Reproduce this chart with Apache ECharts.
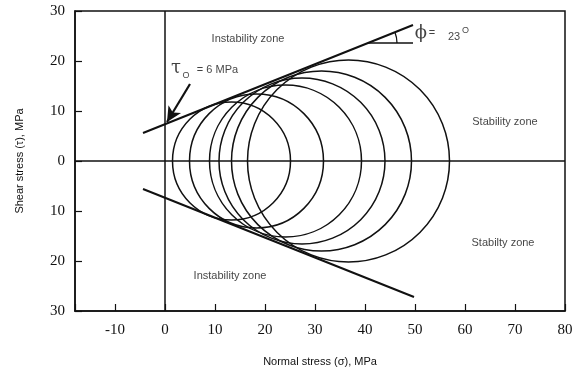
<!DOCTYPE html>
<html>
<head>
<meta charset="utf-8">
<script src="https://cdn.jsdelivr.net/npm/echarts@6/dist/echarts.min.js"></script>
<style>
html, body { margin: 0; padding: 0; background: #fff; }
#chart { width: 582px; height: 368px; }
</style>
</head>
<body>
<div id="chart"></div>
<script>
// Mohr circles (center on sigma axis, radius), MPa
var circleCenters = [13.3, 18.3, 24.1, 27.4, 31.3, 36.7];
var circleRadii = [11.8, 13.4, 15.2, 16.6, 18.0, 20.2];

// failure envelopes
var upperEnvelope = [[-4.4, 5.6], [49.6, 27.2]];
var lowerEnvelope = [[-4.4, -5.6], [49.8, -27.2]];

// arrow to tau0 and the phi angle marker
var arrowLine = [[5.0, 15.4], [0.4, 7.8]];
var angleLine = [[40.6, 23.6], [49.6, 23.6]];
var angleArc = [[40.6, 23.6, 5.8]];

// texts placed in data coordinates
var zoneLabels = [
    [16.6, 24.4, 'Instability zone'],
    [13.0, -23.0, 'Instability zone'],
    [68.0, 7.8, 'Stability zone'],
    [67.6, -16.4, 'Stabilty zone']
];
var noteLabels = [
    [2.2, 18.5, 'τ', 'greek'],
    [4.2, 17.0, 'O', 'sub'],
    [10.5, 18.2, '= 6 MPa', 'note'],
    [51.2, 25.6, 'ϕ', 'greek'],
    [53.4, 25.6, '=', 'note'],
    [57.8, 24.8, '23', 'note'],
    [60.1, 26.0, 'O', 'sub']
];

var noteStyles = {
    greek: { fontSize: 18, fontFamily: 'DejaVu Serif' },
    sub: { fontSize: 9, fontFamily: 'Liberation Sans' },
    note: { fontSize: 11, fontFamily: 'Liberation Sans' }
};

var xMin = -18, xMax = 80;
var yMin = -30, yMax = 30;

var myChart = echarts.init(document.getElementById('chart'));

var circleData = circleCenters.map(function (c, i) {
    return [c, circleRadii[i]];
});

var textData = zoneLabels.map(function (d) {
    return {
        value: [d[0], d[1]],
        label: { formatter: d[2], fontSize: 11, fontFamily: 'Liberation Sans', color: '#111' }
    };
}).concat(noteLabels.map(function (d) {
    var s = noteStyles[d[3]];
    return {
        value: [d[0], d[1]],
        label: { formatter: d[2], fontSize: s.fontSize, fontFamily: s.fontFamily, color: '#111' }
    };
}));

var option = {
    animation: false,
    grid: {
        left: 75,
        right: 17,
        top: 11,
        bottom: 57,
        outerBoundsMode: 'none',
        show: true,
        borderColor: '#111',
        borderWidth: 1.5
    },
    xAxis: {
        type: 'value',
        min: xMin,
        max: xMax,
        splitNumber: 10,
        name: 'Normal stress (σ), MPa',
        nameLocation: 'middle',
        nameGap: 45,
        nameTextStyle: { fontSize: 11, fontFamily: 'Liberation Sans', color: '#111' },
        axisLine: { show: true, onZero: false, lineStyle: { color: '#111', width: 1.5 } },
        axisTick: { show: true, inside: true, length: 7, lineStyle: { color: '#111', width: 1.2 } },
        axisLabel: {
            margin: 12,
            fontSize: 15,
            fontFamily: 'Liberation Serif',
            color: '#111',
            formatter: function (v) {
                return v % 10 === 0 ? String(v) : '';
            }
        },
        splitLine: { show: false }
    },
    yAxis: {
        type: 'value',
        min: yMin,
        max: yMax,
        interval: 10,
        name: 'Shear stress (τ), MPa',
        nameLocation: 'middle',
        nameRotate: 90,
        nameGap: 50,
        nameTextStyle: { fontSize: 11, fontFamily: 'Liberation Sans', color: '#111' },
        axisLine: { show: true, onZero: false, lineStyle: { color: '#111', width: 1.5 } },
        axisTick: { show: true, inside: true, length: 7, lineStyle: { color: '#111', width: 1.2 } },
        axisLabel: {
            margin: 10,
            fontSize: 15,
            fontFamily: 'Liberation Serif',
            color: '#111',
            formatter: function (v) {
                return String(Math.abs(v));
            }
        },
        splitLine: { show: false }
    },
    series: [
        {
            type: 'custom',
            coordinateSystem: 'cartesian2d',
            data: circleData,
            encode: { x: 0, y: 1 },
            silent: true,
            renderItem: function (params, api) {
                var c = api.coord([api.value(0), 0]);
                var r = api.size([api.value(1), 0])[0];
                return {
                    type: 'circle',
                    shape: { cx: c[0], cy: c[1], r: r },
                    style: { fill: 'none', stroke: '#111', lineWidth: 1.5 }
                };
            }
        },
        {
            type: 'line',
            data: upperEnvelope,
            symbol: 'none',
            silent: true,
            lineStyle: { color: '#111', width: 2 },
            markLine: {
                silent: true,
                symbol: 'none',
                label: { show: false },
                lineStyle: { color: '#111', width: 1.5, type: 'solid' },
                data: [{ xAxis: 0 }, { yAxis: 0 }]
            }
        },
        {
            type: 'line',
            data: lowerEnvelope,
            symbol: 'none',
            silent: true,
            lineStyle: { color: '#111', width: 2 }
        },
        {
            type: 'line',
            data: angleLine,
            symbol: 'none',
            silent: true,
            lineStyle: { color: '#111', width: 1.3 }
        },
        {
            type: 'custom',
            coordinateSystem: 'cartesian2d',
            data: angleArc,
            silent: true,
            renderItem: function (params, api) {
                var c = api.coord([api.value(0), api.value(1)]);
                var r = api.size([api.value(2), 0])[0];
                var slope = (upperEnvelope[1][1] - upperEnvelope[0][1]) / (upperEnvelope[1][0] - upperEnvelope[0][0]);
                return {
                    type: 'arc',
                    shape: { cx: c[0], cy: c[1], r: r, startAngle: -Math.atan(slope), endAngle: 0, clockwise: true },
                    style: { fill: 'none', stroke: '#111', lineWidth: 1.3 }
                };
            }
        },
        {
            type: 'line',
            data: [],
            silent: true,
            markLine: {
                silent: true,
                symbol: ['none', 'arrow'],
                symbolSize: [11, 15],
                label: { show: false },
                lineStyle: { color: '#111', width: 2.2, type: 'solid' },
                data: [[{ coord: arrowLine[0] }, { coord: arrowLine[1] }]]
            }
        },
        {
            type: 'scatter',
            data: textData,
            symbolSize: 0,
            silent: true,
            label: { show: true, position: 'inside' }
        }
    ]
};

myChart.setOption(option);
</script>
</body>
</html>
